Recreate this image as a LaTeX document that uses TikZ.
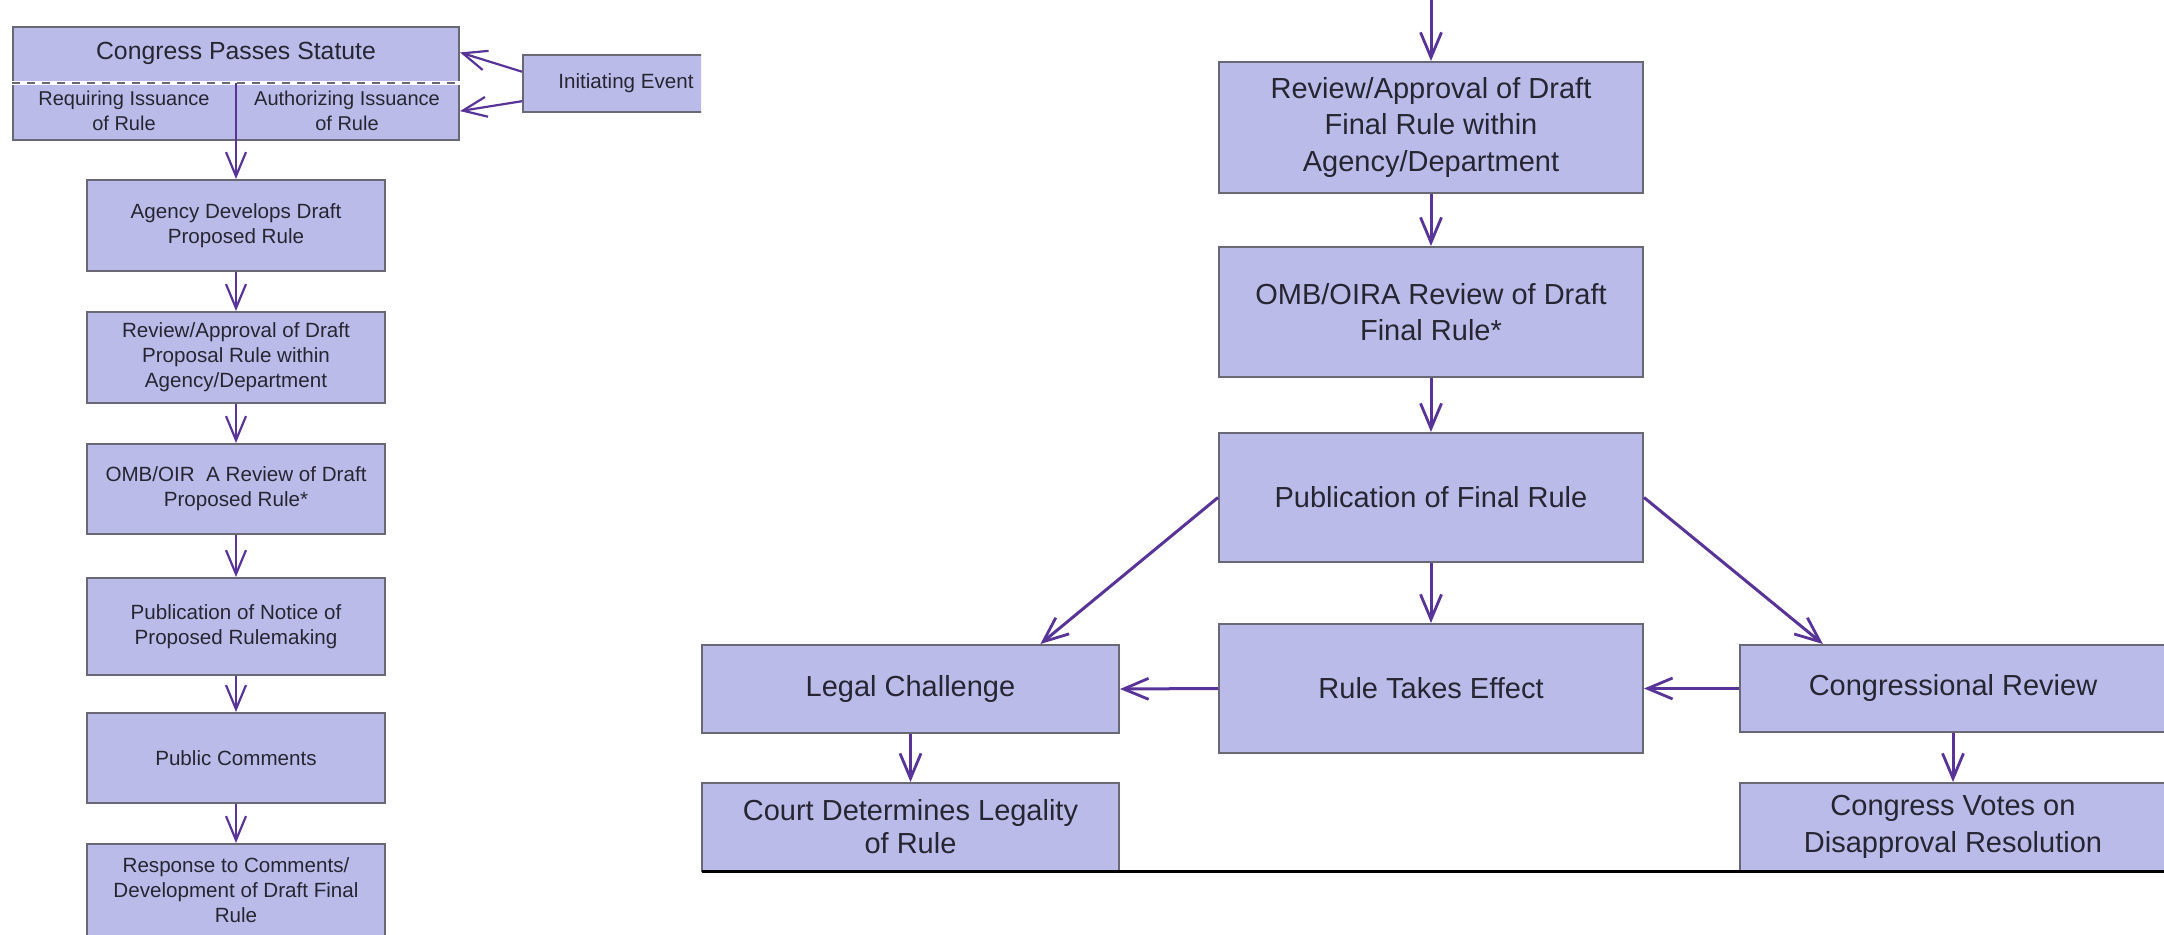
\documentclass[tikz,border=0pt]{standalone}
\usepackage{fontspec}
\setmainfont{Liberation Sans}
\usetikzlibrary{arrows.meta,calc}
\definecolor{boxfill}{RGB}{187,187,234}
\definecolor{boxline}{RGB}{105,105,118}
\definecolor{arrowc}{RGB}{88,52,152}
\definecolor{txt}{RGB}{38,38,50}
\begin{document}
\begin{tikzpicture}[x=0.5pt,y=-0.5pt,
  box/.style={draw=boxline, fill=boxfill, line width=1pt, inner sep=0pt, align=center, text=txt},
  lsz/.style={font=\fontsize{10.3}{12.5}\selectfont},
  rsz/.style={font=\fontsize{14.5}{18.3}\selectfont},
  lbox/.style={box, lsz, minimum width=149pt},
  rbox/.style={box, rsz},
  arr/.style={draw=arrowc, line width=1.1pt, -{Straight Barb[length=12pt,width=10pt,line width=1.1pt]}},
  arrb/.style={draw=arrowc, line width=1.5pt, -{Straight Barb[length=12.5pt,width=10.5pt,line width=1.4pt]}}]
\useasboundingbox (0,0) rectangle (2164,935);
\clip (0,0) rectangle (2164,935);

% ---------- left part ----------
\node[box, minimum width=223pt, minimum height=56.5pt] (congress) at (236,83.5) {};
\node[text=txt, font=\fontsize{12.4}{15}\selectfont, inner sep=0pt] (cps) at (236,53) {Congress Passes Statute};
\coordinate (split) at (236,83);
\draw[white, line width=1.8pt] (congress.west |- split) -- (congress.east |- split);
\draw[boxline, line width=1.1pt, dash pattern=on 4pt off 3.5pt] (congress.west |- split) -- (congress.east |- split);
\node[text=txt, align=center, inner sep=0pt, font=\fontsize{10}{12.2}\selectfont] (req) at (124,111) {Requiring Issuance\\of Rule};
\node[text=txt, align=center, inner sep=0pt, font=\fontsize{10}{12.2}\selectfont] (auth) at (347,111) {Authorizing Issuance\\of Rule};

\begin{scope}
\clip (0,0) rectangle (701,200);
\node[lbox, minimum width=103pt, minimum height=28.5pt] (init) at (626,83.5) {Initiating Event};
\end{scope}

\node[lbox, minimum height=45.5pt] (agency) at (236,225.5) {Agency Develops Draft\\Proposed Rule};
\node[lbox, minimum height=45.5pt] (rev1) at (236,357.5) {Review/Approval of Draft\\Proposal Rule within\\Agency/Department};
\node[lbox, minimum height=45pt] (omb1) at (236,489) {OMB/OIR\ \ A Review of Draft\\Proposed Rule*};
\node[lbox, minimum height=48.5pt] (pubn) at (236,626.5) {Publication of Notice of\\Proposed Rulemaking};
\node[lbox, minimum height=45pt] (pubc) at (236,758) {Public Comments};
\node[lbox, minimum height=46pt] (resp) at (236,890) {Response to Comments/\\Development of Draft Final\\Rule};

\draw[arr] ($(init.north west)!0.3!(init.south west)$) -- ($(congress.north east)!0.23!(congress.south east)$);
\draw[arr] ($(init.north west)!0.8!(init.south west)$) -- ($(congress.north east)!0.74!(congress.south east)$);
\draw[arr] (split) -- (agency);
\draw[arr] (agency) -- (rev1);
\draw[arr] (rev1) -- (omb1);
\draw[arr] (omb1) -- (pubn);
\draw[arr] (pubn) -- (pubc);
\draw[arr] (pubc) -- (resp);

% ---------- right part ----------
\node[rbox, minimum width=212pt, minimum height=65.5pt] (rev2) at (1431,127.5) {Review/Approval of Draft\\Final Rule within\\Agency/Department};
\node[rbox, minimum width=212pt, minimum height=65pt] (omb2) at (1431,312) {OMB/OIRA Review of Draft\\Final Rule*};
\node[rbox, minimum width=212pt, minimum height=64.5pt] (pubf) at (1431,497.5) {Publication of Final Rule};
\node[rbox, minimum width=212pt, minimum height=64.5pt] (rte) at (1431,688.5) {Rule Takes Effect};
\node[rbox, minimum width=208.5pt, minimum height=44pt] (legal) at (910.5,689) {Legal Challenge};
\node[rbox, minimum width=208.5pt, minimum height=44pt, font=\fontsize{14.5}{16.5}\selectfont] (court) at (910.5,827) {Court Determines Legality\\of Rule};
\node[rbox, minimum width=213pt, minimum height=43.5pt] (crev) at (1953,688.5) {Congressional Review};
\node[rbox, minimum width=213pt, minimum height=44pt, font=\fontsize{14.5}{18.5}\selectfont] (cvotes) at (1953,827) {Congress Votes on\\Disapproval Resolution};

\coordinate (topin) at (1431,0);
\draw[arrb] (topin) -- (rev2);
\draw[arrb] (rev2) -- (omb2);
\draw[arrb] (omb2) -- (pubf);
\draw[arrb] (pubf) -- (rte);
\draw[arrb] (pubf.west) -- ($(legal.north west)!0.81!(legal.north east)$);
\draw[arrb] (pubf.east) -- ($(crev.north west)!0.196!(crev.north east)$);
\draw[arrb] (rte.west) -- (legal.east);
\draw[arrb] (crev.west) -- (rte.east);
\draw[arrb] (legal) -- (court);
\draw[arrb] (crev) -- (cvotes);

\coordinate (bl) at (702,871);
\coordinate (br) at (2164,871);
\draw[black, line width=1.5pt] (bl) -- (br);
\end{tikzpicture}
\end{document}
